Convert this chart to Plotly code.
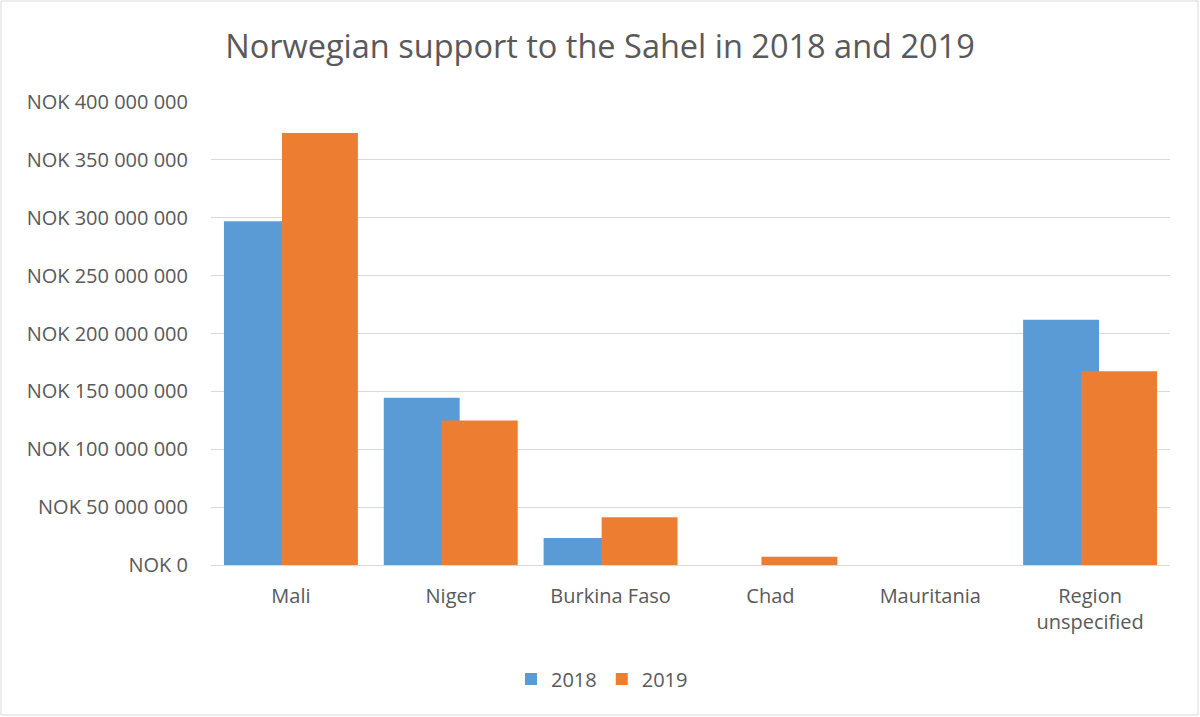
import plotly.graph_objects as go

categories = ["Mali", "Niger", "Burkina Faso", "Chad", "Mauritania", "Region<br>unspecified"]
values_2018 = [297_000_000, 144_400_000, 23_300_000, 0, 0, 211_800_000]
values_2019 = [373_200_000, 124_800_000, 41_200_000, 7_200_000, 0, 167_400_000]
tick_vals = [0, 50_000_000, 100_000_000, 150_000_000, 200_000_000, 250_000_000, 300_000_000, 350_000_000, 400_000_000]
tick_text = ["NOK 0", "NOK 50 000 000", "NOK 100 000 000", "NOK 150 000 000", "NOK 200 000 000",
             "NOK 250 000 000", "NOK 300 000 000", "NOK 350 000 000", "NOK 400 000 000"]

FONT = "Open Sans"
GREY = "#595959"

# the page body margin is removed by a post script, so figure coords == page coords
W, H = 1200, 717
L, T = 211, 102
plot_right = 1170
plot_bottom = 565
R = W - plot_right
B = H - plot_bottom
pw = W - L - R
ph = H - T - B

fig = go.Figure()
fig.add_trace(go.Bar(x=categories, y=values_2018, name="2018", marker_color="#5B9BD5",
                     width=0.475, offset=-0.419, marker_line_width=0))
fig.add_trace(go.Bar(x=categories, y=values_2019, name="2019", marker_color="#ED7D31",
                     width=0.475, offset=-0.056, marker_line_width=0))

fig.update_layout(
    width=W, height=H,
    barmode="overlay",
    paper_bgcolor="white", plot_bgcolor="white",
    margin=dict(l=L, r=R, t=T, b=B, autoexpand=False),
    title=dict(text="Norwegian support to the Sahel in 2018 and 2019", x=600 / W, xanchor="center",
               y=1 - 47 / H, yanchor="middle",
               font=dict(family=FONT, size=32.5, color=GREY)),
    font=dict(family=FONT, color=GREY),
    showlegend=True,
    legend=dict(orientation="h", x=(602 - L) / pw, xanchor="center",
                y=(plot_bottom - 679) / ph, yanchor="middle",
                font=dict(family=FONT, size=20, color=GREY), itemwidth=30, traceorder="normal"),
    xaxis=dict(range=[-0.5, 5.5], showgrid=False, showline=False, ticks="",
               tickfont=dict(family=FONT, size=20, color=GREY), ticklabelstandoff=17, fixedrange=True),
    yaxis=dict(range=[0, 400_000_000], tickvals=tick_vals, ticktext=tick_text,
               showgrid=True, gridcolor="#D9D9D9", gridwidth=1, zeroline=True, zerolinecolor="#D9D9D9",
               zerolinewidth=1, showline=False, ticks="", ticklabelstandoff=22,
               tickfont=dict(family=FONT, size=20, color=GREY)),
)

fig.add_shape(type="rect", xref="paper", yref="paper",
              x0=(1 - L) / pw, x1=(1198 - L) / pw,
              y0=(plot_bottom - 715) / ph, y1=(plot_bottom - 1) / ph,
              line=dict(color="#D9D9D9", width=1), fillcolor="rgba(0,0,0,0)", layer="below")

fig.write_html("out.html",
               config={"displayModeBar": False},
               post_script="document.body.style.margin='0';document.body.style.padding='0';"
                           "document.documentElement.style.overflow='hidden';")
